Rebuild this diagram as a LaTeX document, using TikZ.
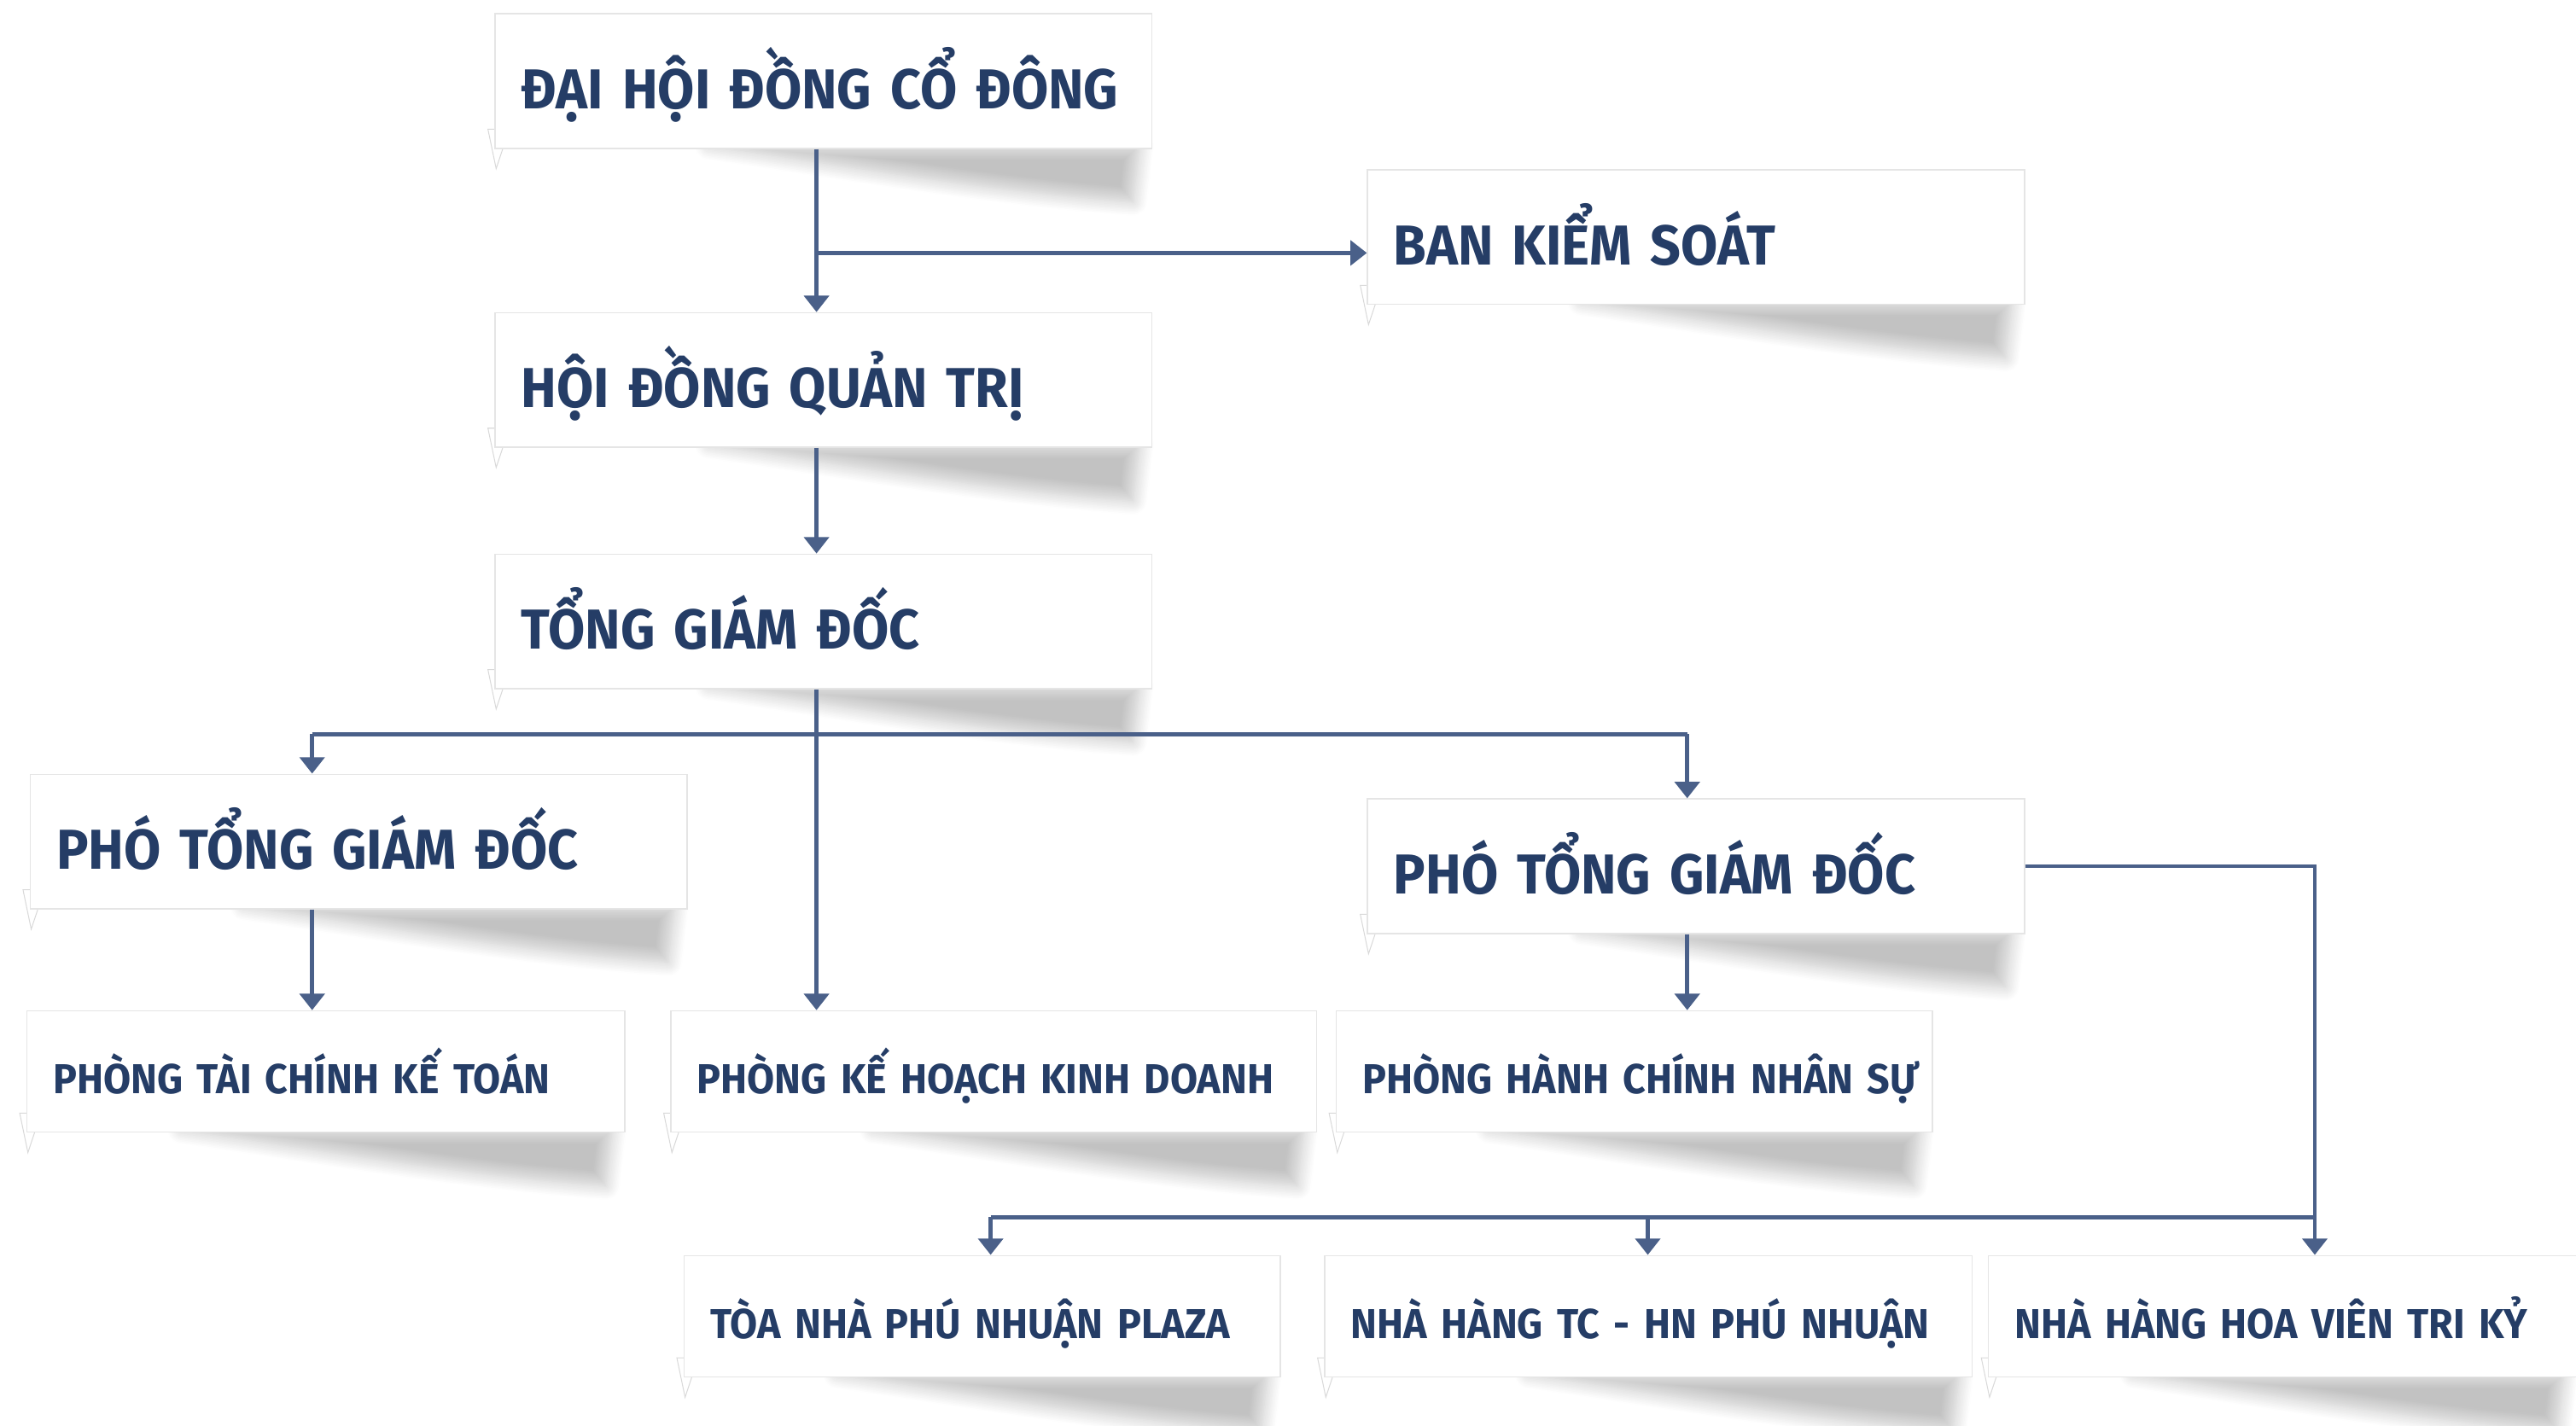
\documentclass[tikz,border=0pt]{standalone}
\usepackage{fontspec}
\usepackage{tikz}
\usetikzlibrary{positioning,calc,arrows.meta,shadows.blur}
\newfontfamily\orgfont{Fira Sans}[FakeStretch=0.95,WordSpace=0.7]
\definecolor{org-navy}{RGB}{37,61,102}
\definecolor{org-line}{RGB}{74,96,137}
\pgfdeclarelayer{background}
\pgfsetlayers{background,main}

\tikzset{
bigbox/.style={anchor=north west, fill=white, draw=black!10, line width=0.4pt,
  minimum width=8cm, minimum height=1.64cm, inner xsep=0.32cm, text width=7.36cm,
  align=left, text=org-navy, text height=0.68cm, text depth=0cm,
  font=\orgfont\bfseries\fontsize{19.5pt}{22pt}\selectfont},
smallbox/.style 2 args={anchor=north west, fill=white, draw=black!10, line width=0.4pt,
  minimum width=#1, minimum height=1.48cm, inner xsep=0.32cm, text width=#2,
  align=left, text=org-navy, text height=0.54cm, text depth=0cm,
  font=\orgfont\bfseries\fontsize{14.5pt}{17pt}\selectfont},
conn/.style={draw=org-line, line width=1.4pt, -{Triangle[width=0.3cm,length=0.2cm]}},
bus/.style={draw=org-line, line width=1.4pt}
}

% curled shadow and small tab under a box
\newcommand{\papershadow}[1]{%
\begin{scope}[shift={(#1.south east)}]
\path[blur shadow={shadow xshift=0pt, shadow yshift=0pt, shadow blur radius=5pt,
  shadow opacity=24, shadow blur steps=12}]
  (-8,-2) -- (-12,32) .. controls (-100,26) and (-200,8) .. (-270,-2) -- cycle;
\end{scope}
\begin{scope}[shift={(#1.south west)}]
\filldraw[fill=white, draw=black!15, line width=0.3pt]
  (-4,-12) -- (5,-12) -- (5,0) -- (1,12) -- cycle;
\end{scope}}

\begin{document}
\begin{tikzpicture}[x=0.02cm,y=-0.02cm]
\useasboundingbox (0,0) rectangle (1568,868);

% top of the chart
\node[bigbox] (dhdcd) at (301,8) {ĐẠI HỘI ĐỒNG CỔ ĐÔNG};
\node[bigbox] (bks) at (832,103) {BAN KIỂM SOÁT};
\node[bigbox] (hdqt) at (301,190) {HỘI ĐỒNG QUẢN TRỊ};
\node[bigbox] (tgd) at (301,337) {TỔNG GIÁM ĐỐC};
\node[bigbox] (ptgdl) at (18,471) {PHÓ TỔNG GIÁM ĐỐC};
\node[bigbox] (ptgdr) at (832,486) {PHÓ TỔNG GIÁM ĐỐC};

% departments
\node[smallbox={7.28cm}{6.64cm}] (ptckt) at (16,615) {PHÒNG TÀI CHÍNH KẾ TOÁN};
\node[smallbox={7.86cm}{7.22cm}] (pkhkd) at (408,615) {PHÒNG KẾ HOẠCH KINH DOANH};
\node[smallbox={7.26cm}{6.62cm}] (phcns) at (813,615) {\mbox{PHÒNG HÀNH CHÍNH NHÂN SỰ}};

% units
\node[smallbox={7.26cm}{6.62cm}] (tnpn) at (416,764) {TÒA NHÀ PHÚ NHUẬN PLAZA};
\node[smallbox={7.88cm}{7.24cm}] (nhtc) at (806,764) {NHÀ HÀNG TC - HN PHÚ NHUẬN};
\node[smallbox={7.16cm}{6.52cm}] (nhhv) at (1210,764) {NHÀ HÀNG HOA VIÊN TRI KỶ};

\begin{pgfonlayer}{background}
\foreach \b in {dhdcd,bks,hdqt,tgd,ptgdl,ptgdr,ptckt,pkhkd,phcns,tnpn,nhtc,nhhv}
  {\papershadow{\b}}
\end{pgfonlayer}

% connectors
\coordinate (kbranch) at (497,154);
\coordinate (busL) at (190,447);
\coordinate (busR) at (1027,447);
\coordinate (busBL) at (603,741);
\coordinate (busBM) at (1003,741);
\coordinate (busBR) at (1409,741);

\draw[conn] (kbranch |- dhdcd.south) -- (kbranch |- hdqt.north);
\draw[conn] (kbranch) -- (kbranch -| bks.west);
\draw[conn] (kbranch |- hdqt.south) -- (kbranch |- tgd.north);
\draw[conn] (kbranch |- tgd.south) -- (kbranch |- pkhkd.north);
\draw[bus] (busL) -- (busR);
\draw[conn] (busL) -- (busL |- ptgdl.north);
\draw[conn] (busR) -- (busR |- ptgdr.north);
\draw[conn] (busL |- ptgdl.south) -- (busL |- ptckt.north);
\draw[conn] (busR |- ptgdr.south) -- (busR |- phcns.north);
\draw[conn] (ptgdr.east) -| (busBR |- nhhv.north);
\draw[bus] (busBL) -- (busBR);
\draw[conn] (busBL) -- (busBL |- tnpn.north);
\draw[conn] (busBM) -- (busBM |- nhtc.north);
\end{tikzpicture}
\end{document}
